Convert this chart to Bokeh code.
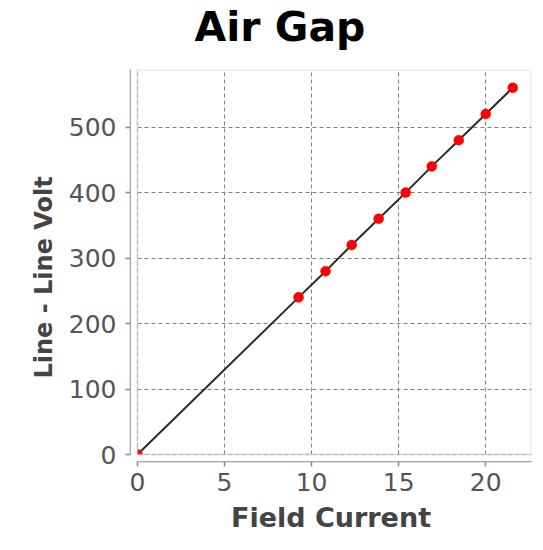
from bokeh.plotting import figure
from bokeh.layouts import column
from bokeh.models import BoxAnnotation, FixedTicker, Title
from bokeh.embed import file_html
from bokeh.resources import INLINE

# data
field_current = [0.0, 9.25, 10.8, 12.3, 13.85, 15.4, 16.9, 18.45, 20.0, 21.55]
line_volt = [0, 240, 280, 320, 360, 400, 440, 480, 520, 560]
x_ticks = [0, 5, 10, 15, 20]
y_ticks = [0, 100, 200, 300, 400, 500]
title_text = "Air Gap"

# JFreeChart-like auto range (5% upper margin) plus an axis offset gap
x_end = max(field_current) * 1.05
y_end = max(line_volt) * 1.05
gap = 7
plot_w = 394
plot_h = 385
x_start = -gap * x_end / plot_w
y_start = -gap * y_end / plot_h

W = 535
TITLE_H = 67

# --- title strip: an empty figure that only carries the title ---
t = figure(width=W, height=TITLE_H, output_backend="svg", toolbar_location=None,
           x_range=(0, 1), y_range=(0, 1),
           min_border_left=130, min_border_right=4, min_border_top=0,
           min_border_bottom=0, x_axis_type=None, y_axis_type=None)
t.grid.visible = False
t.outline_line_color = None
t.background_fill_color = "white"
t.border_fill_color = "white"
t.title.text = title_text
t.title.text_font = "DejaVu Sans"
t.title.text_font_style = "bold"
t.title.text_font_size = "41px"
t.title.text_color = "black"
t.title.align = "left"
t.title.vertical_align = "top"
t.title.offset = 64
t.title.standoff = 4

# --- main chart ---
p = figure(width=W, height=542 - TITLE_H, output_backend="svg",
           toolbar_location=None,
           x_range=(x_start, x_end), y_range=(y_start, y_end),
           min_border_left=130, min_border_right=4, min_border_top=69 - TITLE_H,
           min_border_bottom=81)
p.background_fill_color = "white"
p.border_fill_color = "white"
p.outline_line_color = None

axis_color = "#888888"
for ax in (p.xaxis[0], p.yaxis[0]):
    ax.axis_line_color = axis_color
    ax.axis_line_width = 1.5
    ax.major_tick_line_color = axis_color
    ax.major_tick_line_width = 1.5
    ax.major_tick_in = 0
    ax.major_tick_out = 5
    ax.minor_tick_line_color = None
    ax.major_label_text_font = "DejaVu Sans"
    ax.major_label_text_font_size = "25px"
    ax.major_label_text_color = "#555555"
    ax.axis_label_text_font = "DejaVu Sans"
    ax.axis_label_text_font_style = "bold"
    ax.axis_label_text_color = "#444444"

p.xaxis.major_label_standoff = 6
p.yaxis.major_label_standoff = 9
p.xaxis.axis_label = "Field Current"
p.xaxis.axis_label_text_font_size = "27px"
p.xaxis.axis_label_standoff = 8
p.xaxis.ticker = FixedTicker(ticks=x_ticks)
p.yaxis.ticker = FixedTicker(ticks=y_ticks)
p.xaxis.bounds = (0, x_end)
p.yaxis.bounds = (0, y_end)

p.grid.grid_line_color = "#808080"
p.grid.grid_line_dash = "4 3"
p.grid.grid_line_width = 1

p.line(field_current, line_volt, line_color="#2a2a2a", line_width=2)
p.scatter(field_current, line_volt, size=10, fill_color="#ff0000",
          line_color="#ff0000", line_width=0.5)

# cover the offset gap between data area and axes
p.add_layout(BoxAnnotation(right=0, fill_color="white", fill_alpha=1.0,
                           line_color=None, level="annotation"))
p.add_layout(BoxAnnotation(top=0, fill_color="white", fill_alpha=1.0,
                           line_color=None, level="annotation"))
# data-area border
p.add_layout(BoxAnnotation(left=0, right=x_end, bottom=0, top=y_end,
                           fill_alpha=0, line_color="#999999", line_width=2,
                           level="annotation"))

# y-axis title, placed like the reference (slightly below the frame centre)
p.add_layout(Title(text="Line - Line Volt", align="left", offset=83,
                   standoff=15, text_font="DejaVu Sans",
                   text_font_style="bold", text_font_size="24px",
                   text_color="#444444"), "left")

layout = column(t, p, spacing=0)
open("out.html", "w").write(file_html(layout, INLINE))
